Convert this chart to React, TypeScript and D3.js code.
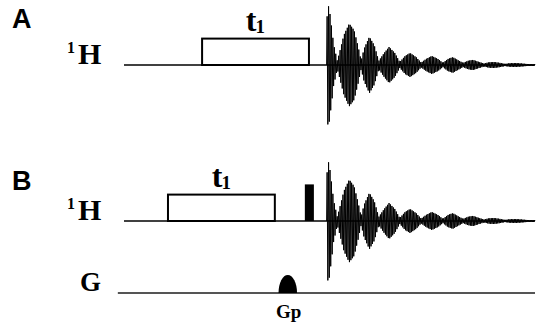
import React from "react";
import * as d3 from "d3";

// time axis units (arbitrary), amplitude units (relative)
const panels = ["A", "B"];
const channelLabels = ["H", "H", "G"];
const t1BoxA = [19.0, 45.0];
const t1BoxB = [10.7, 36.7];
const pulseB = [44.0, 46.2];
const gradientGp = [37.6, 42.1];
const gradientHeight = [0.3];
const boxHeight = [0.44];
const pulseHeight = [0.61];
// FID envelope: time, amplitude (fraction of full scale)
const fidTime = [49.3, 49.45, 49.9, 50.4, 51.0, 51.9, 52.4, 53.5, 54.8, 56.0, 57.0, 57.7, 58.4, 59.7, 60.9, 62.0, 63.3, 64.5, 65.9, 67.1, 68.4, 69.6, 71.1, 72.3, 73.5, 74.9, 76.4, 77.6, 78.8, 80.0, 81.3, 82.5, 83.7, 84.9, 86.4, 87.6, 88.8, 90.0, 91.5, 92.7, 93.9, 95.4, 96.8, 98.0, 100];
const fidAmp = [0.0, 1.0, 0.97, 0.7, 0.35, 0.07, 0.2, 0.5, 0.69, 0.58, 0.3, 0.07, 0.27, 0.47, 0.33, 0.07, 0.2, 0.3, 0.2, 0.05, 0.15, 0.2, 0.13, 0.04, 0.1, 0.15, 0.1, 0.035, 0.1, 0.13, 0.08, 0.035, 0.07, 0.085, 0.05, 0.025, 0.045, 0.05, 0.035, 0.018, 0.03, 0.033, 0.025, 0.017, 0.015];

export default function App() {
  const W = 548, H = 328;
  const x = d3.scaleLinear().domain([0, 100]).range([124, 535]);
  const amp = d3.scaleLinear().domain([0, 1]).range([0, 60]);
  const env = d3.scaleLinear().domain(fidTime).range(fidAmp).clamp(true);
  const baseA = 65, baseB = 221, baseG = 293;

  const fidPath = (base: number) => {
    const x0 = x(fidTime[0]);
    const x1 = x(fidTime[fidTime.length - 1]);
    const pts: [number, number][] = [[x0, base]];
    let sign = 1;
    for (let px = x0 + 0.5; px <= x1; px += 0.72) {
      const a = Math.max(amp(env(x.invert(px))), 1);
      pts.push([px, base - sign * a]);
      sign = -sign;
    }
    pts.push([x1, base]);
    return d3.line()(pts) || "";
  };

  const gpPath = () => {
    const a = x(gradientGp[0]);
    const b = x(gradientGp[1]);
    const h = amp(gradientHeight[0]);
    const rx = (b - a) / 2;
    return `M${a},${baseG} A${rx},${h} 0 0 1 ${b},${baseG} Z`;
  };

  const serif = "'Liberation Serif', 'Times New Roman', serif";
  const sans = "'Liberation Sans', Arial, sans-serif";
  const bh = amp(boxHeight[0]);
  const ph = amp(pulseHeight[0]);

  const hLabel = (base: number, label: string) => (
    <g fontFamily={serif} fontWeight="bold">
      <text x={67} y={base - 12} fontSize={16}>1</text>
      <text x={78} y={base - 1} fontSize={30}>{label}</text>
    </g>
  );
  const t1Label = (cx: number, base: number) => (
    <g fontFamily={serif} fontWeight="bold">
      <text x={cx - 2} y={base} fontSize={32} textAnchor="end">t</text>
      <text x={cx - 3} y={base + 2} fontSize={19}>1</text>
    </g>
  );

  return (
    <svg width={W} height={H} style={{ position: "absolute", left: 0, top: 0, background: "#fff" }}>
      {/* Panel labels */}
      <text x={12} y={28} fontFamily={sans} fontWeight="bold" fontSize={27}>{panels[0]}</text>
      <text x={12} y={190} fontFamily={sans} fontWeight="bold" fontSize={27}>{panels[1]}</text>

      {/* Panel A */}
      {hLabel(baseA, channelLabels[0])}
      <line x1={x(0)} x2={x(100)} y1={baseA} y2={baseA} stroke="#000" strokeWidth={1.5} />
      <rect x={x(t1BoxA[0])} y={baseA - bh} width={x(t1BoxA[1]) - x(t1BoxA[0])} height={bh} fill="#fff" stroke="#000" strokeWidth={2} />
      {t1Label((x(t1BoxA[0]) + x(t1BoxA[1])) / 2 + 3, 31)}
      <path d={fidPath(baseA)} fill="none" stroke="#000" strokeWidth={1} />

      {/* Panel B */}
      {hLabel(baseB, channelLabels[1])}
      <line x1={x(0)} x2={x(100)} y1={baseB} y2={baseB} stroke="#000" strokeWidth={1.5} />
      <rect x={x(t1BoxB[0])} y={baseB - bh} width={x(t1BoxB[1]) - x(t1BoxB[0])} height={bh} fill="#fff" stroke="#000" strokeWidth={2} />
      {t1Label((x(t1BoxB[0]) + x(t1BoxB[1])) / 2 + 3, 187)}
      <rect x={x(pulseB[0])} y={baseB - ph} width={x(pulseB[1]) - x(pulseB[0])} height={ph} fill="#000" />
      <path d={fidPath(baseB)} fill="none" stroke="#000" strokeWidth={1} />

      {/* Gradient channel */}
      <text x={80} y={291} fontFamily={serif} fontWeight="bold" fontSize={27}>{channelLabels[2]}</text>
      <line x1={x(-1.5)} x2={x(100)} y1={baseG} y2={baseG} stroke="#555" strokeWidth={2} />
      <path d={gpPath()} fill="#000" />
      <text x={(x(gradientGp[0]) + x(gradientGp[1])) / 2 + 1} y={318} textAnchor="middle" fontFamily={serif} fontWeight="bold" fontSize={19}>Gp</text>
    </svg>
  );
}
